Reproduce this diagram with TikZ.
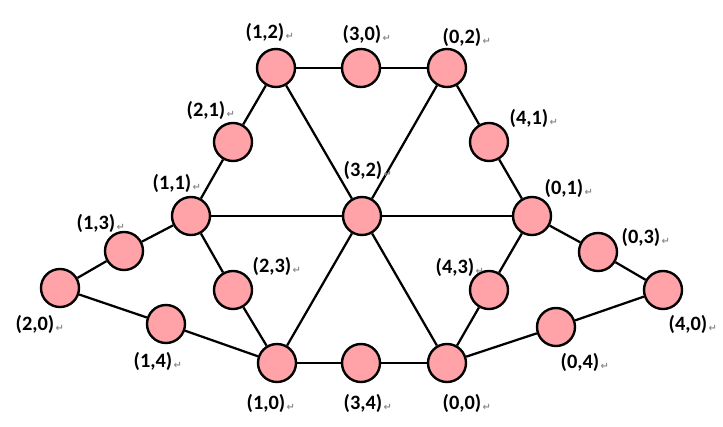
\documentclass[tikz,border=0pt]{standalone}
\usepackage{fontspec}
\setmainfont{Carlito}
\newfontfamily\symfont{DejaVu Sans}
\usetikzlibrary{positioning}
\definecolor{nodepink}{HTML}{FFA3A8}
\definecolor{markgray}{HTML}{8C8C8C}
\newcommand{\retmark}{\rlap{\kern1pt\raisebox{-1pt}{\symfont\fontsize{7}{7}\selectfont\textcolor{markgray}{↵}}}}
\tikzset{
  vertex/.style={
    circle,
    draw=black,
    fill=nodepink,
    line width=1.7pt,
    minimum size=0.95cm,
    inner sep=0pt
  },
  tag/.style={
    font=\fontsize{14.5}{15}\selectfont\bfseries,
    inner sep=0pt
  },
  edge/.style={
    line width=1.6pt,
    draw=black
  }
}

\begin{document}
\begin{tikzpicture}[x=0.025cm,y=-0.025cm]
\useasboundingbox (0,0) rectangle (723,427);
% vertices
\node[vertex] (n12) at (276,68) {};
\node[vertex] (n30) at (361,68) {};
\node[vertex] (n02) at (447,68) {};
\node[vertex] (n21) at (233,142) {};
\node[vertex] (n41) at (489,142) {};
\node[vertex] (n11) at (191,216) {};
\node[vertex] (n32) at (362,216) {};
\node[vertex] (n01) at (532,216) {};
\node[vertex] (n13) at (124,251) {};
\node[vertex] (n03) at (598,252) {};
\node[vertex] (n20) at (60,288) {};
\node[vertex] (n40) at (663,290) {};
\node[vertex] (n23) at (233,290) {};
\node[vertex] (n43) at (489,290) {};
\node[vertex] (n14) at (166,324) {};
\node[vertex] (n04) at (556,327) {};
\node[vertex] (n10) at (277,363) {};
\node[vertex] (n34) at (361,363) {};
\node[vertex] (n00) at (447,363) {};
% edges
\draw[edge] (n12) -- (n30) -- (n02);
\draw[edge] (n10) -- (n34) -- (n00);
\draw[edge] (n12) -- (n21) -- (n11);
\draw[edge] (n02) -- (n41) -- (n01);
\draw[edge] (n11) -- (n32) -- (n01);
\draw[edge] (n12) -- (n32) -- (n00);
\draw[edge] (n02) -- (n32) -- (n10);
\draw[edge] (n11) -- (n23) -- (n10);
\draw[edge] (n01) -- (n43) -- (n00);
\draw[edge] (n11) -- (n13) -- (n20);
\draw[edge] (n20) -- (n14) -- (n10);
\draw[edge] (n01) -- (n03) -- (n40);
\draw[edge] (n40) -- (n04) -- (n00);
% labels
\node[tag] (l12) at (265,32) {(1,2)\retmark};
\node[tag] (l30) at (362,34) {(3,0)\retmark};
\node[tag] (l02) at (462,37) {(0,2)\retmark};
\node[tag] (l21) at (206,110) {(2,1)\retmark};
\node[tag] (l41) at (529,118) {(4,1)\retmark};
\node[tag] (l11) at (172,183) {(1,1)\retmark};
\node[tag] (l32) at (363,170) {(3,2)\retmark};
\node[tag] (l01) at (564,188) {(0,1)\retmark};
\node[tag] (l13) at (96,223) {(1,3)\retmark};
\node[tag] (l03) at (641,237) {(0,3)\retmark};
\node[tag] (l20) at (35,324) {(2,0)\retmark};
\node[tag] (l40) at (688,324) {(4,0)\retmark};
\node[tag] (l23) at (272,266) {(2,3)\retmark};
\node[tag] (l43) at (455,267) {(4,3)\retmark};
\node[tag] (l14) at (153,361) {(1,4)\retmark};
\node[tag] (l04) at (580,362) {(0,4)\retmark};
\node[tag] (l10) at (266,403) {(1,0)\retmark};
\node[tag] (l34) at (363,403) {(3,4)\retmark};
\node[tag] (l00) at (462,403) {(0,0)\retmark};
\end{tikzpicture}
\end{document}
